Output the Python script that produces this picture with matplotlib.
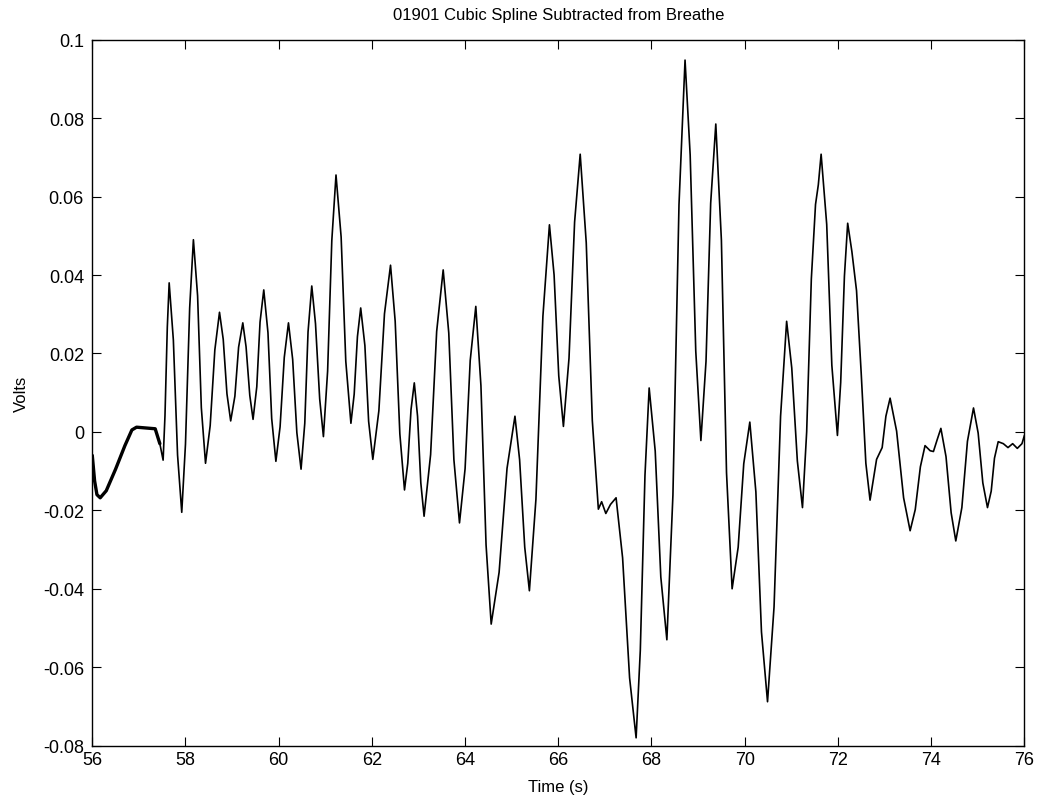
import numpy as np
import matplotlib
matplotlib.use('Agg')
import matplotlib.pyplot as plt

# points: extrema plus two shoulder points per swing
time_s = [56.00, 56.05, 56.10, 56.17, 56.30, 56.50, 56.70, 56.85, 56.95, 57.15,
          57.35, 57.45, 57.52, 57.56, 57.61, 57.65, 57.74, 57.83, 57.92, 58.00,
          58.09, 58.17, 58.26, 58.34, 58.43, 58.53, 58.63, 58.73, 58.81, 58.89,
          58.97, 59.06, 59.14, 59.23, 59.30, 59.38, 59.45, 59.53, 59.60, 59.68,
          59.77, 59.85, 59.94, 60.03, 60.12, 60.21, 60.30, 60.39, 60.48, 60.56,
          60.63, 60.71, 60.79, 60.88, 60.96, 61.05, 61.14, 61.23, 61.34, 61.44,
          61.55, 61.62, 61.69, 61.76, 61.85, 61.93, 62.02, 62.15, 62.27, 62.40,
          62.50, 62.60, 62.70, 62.77, 62.84, 62.91, 62.98, 63.05, 63.12, 63.26,
          63.39, 63.53, 63.65, 63.76, 63.88, 64.00, 64.11, 64.23, 64.34, 64.45,
          64.56, 64.73, 64.90, 65.07, 65.17, 65.28, 65.38, 65.52, 65.67, 65.81,
          65.91, 66.01, 66.11, 66.23, 66.35, 66.47, 66.60, 66.73, 66.86, 66.93,
          67.02, 67.12, 67.24, 67.38, 67.53, 67.67, 67.76, 67.86, 67.95, 68.08,
          68.20, 68.33, 68.46, 68.59, 68.72, 68.83, 68.95, 69.06, 69.17, 69.27,
          69.38, 69.50, 69.61, 69.73, 69.86, 69.98, 70.11, 70.24, 70.36, 70.49,
          70.63, 70.77, 70.90, 71.01, 71.13, 71.24, 71.33, 71.43, 71.52, 71.58,
          71.64, 71.76, 71.87, 71.99, 72.06, 72.14, 72.21, 72.30, 72.40, 72.50,
          72.60, 72.69, 72.83, 72.95, 73.03, 73.12, 73.26, 73.41, 73.55, 73.66,
          73.77, 73.87, 73.98, 74.05, 74.13, 74.21, 74.32, 74.43, 74.53, 74.66,
          74.78, 74.91, 75.01, 75.11, 75.21, 75.29, 75.36, 75.44, 75.55, 75.65,
          75.75, 75.85, 75.95, 76.00]
volts = [-0.0060, -0.0125, -0.0160, -0.0168, -0.0150, -0.0095, -0.0035, 0.0005, 0.0012, 0.0010,
         0.0008, -0.0030, -0.0072, 0.0041, 0.0267, 0.0380, 0.0234, -0.0059, -0.0205, -0.0031,
         0.0316, 0.0490, 0.0347, 0.0062, -0.0080, 0.0016, 0.0209, 0.0305, 0.0236, 0.0097,
         0.0028, 0.0091, 0.0216, 0.0278, 0.0217, 0.0093, 0.0032, 0.0115, 0.0280, 0.0362,
         0.0253, 0.0034, -0.0075, 0.0013, 0.0190, 0.0278, 0.0185, -0.0002, -0.0095, 0.0022,
         0.0255, 0.0372, 0.0276, 0.0084, -0.0012, 0.0155, 0.0488, 0.0655, 0.0497, 0.0180,
         0.0022, 0.0096, 0.0243, 0.0316, 0.0220, 0.0027, -0.0070, 0.0054, 0.0301, 0.0425,
         0.0282, -0.0005, -0.0148, -0.0080, 0.0057, 0.0125, 0.0040, -0.0130, -0.0215, -0.0058,
         0.0256, 0.0413, 0.0252, -0.0071, -0.0232, -0.0094, 0.0182, 0.0320, 0.0118, -0.0288,
         -0.0490, -0.0358, -0.0093, 0.0040, -0.0071, -0.0294, -0.0405, -0.0172, 0.0295, 0.0528,
         0.0400, 0.0143, 0.0014, 0.0188, 0.0535, 0.0708, 0.0482, 0.0029, -0.0197, -0.0178,
         -0.0208, -0.0185, -0.0168, -0.0321, -0.0627, -0.0780, -0.0557, -0.0111, 0.0112, -0.0049,
         -0.0370, -0.0530, -0.0161, 0.0579, 0.0948, 0.0706, 0.0206, -0.0022, 0.0180, 0.0583,
         0.0785, 0.0489, -0.0104, -0.0400, -0.0294, -0.0081, 0.0025, -0.0153, -0.0510, -0.0688,
         -0.0446, 0.0040, 0.0282, 0.0163, -0.0074, -0.0193, 0.0000, 0.0390, 0.0580, 0.0630,
         0.0708, 0.0529, 0.0170, -0.0009, 0.0126, 0.0397, 0.0532, 0.0460, 0.0360, 0.0150,
         -0.0080, -0.0174, -0.0070, -0.0040, 0.0040, 0.0086, 0.0002, -0.0168, -0.0252, -0.0198,
         -0.0089, -0.0035, -0.0048, -0.0050, -0.0020, 0.0009, -0.0063, -0.0206, -0.0278, -0.0193,
         -0.0024, 0.0061, -0.0003, -0.0130, -0.0193, -0.0151, -0.0067, -0.0025, -0.0030, -0.0040,
         -0.0030, -0.0042, -0.0030, -0.0010]

x_ticks = [56, 58, 60, 62, 64, 66, 68, 70, 72, 74, 76]
y_ticks = [-0.08, -0.06, -0.04, -0.02, 0, 0.02, 0.04, 0.06, 0.08, 0.1]
y_labels = ['-0.08', '-0.06', '-0.04', '-0.02', '0', '0.02', '0.04', '0.06', '0.08', '0.1']

plt.rcParams.update({
    'font.family': ['Liberation Sans', 'DejaVu Sans'],
    'axes.unicode_minus': False,
    'axes.linewidth': 1.0,
    'xtick.direction': 'in',
    'ytick.direction': 'in',
    'xtick.top': True,
    'ytick.right': True,
    'xtick.major.size': 6.5,
    'ytick.major.size': 6.5,
    'xtick.labelsize': 13,
    'ytick.labelsize': 13,
})

fig = plt.figure(figsize=(10.38, 8.04), dpi=100)
ax = fig.add_axes([0.0889, 0.0713, 0.8979, 0.8781])

t = np.array(time_s)
v = np.array(volts)
ax.plot(t, v, color='black', linewidth=1.2)
# the start of the record is noisier, so it reads as a heavier line
early = t <= 57.45
ax.plot(t[early], v[early], color='black', linewidth=2.4, solid_capstyle='round')

ax.set_xlim(56, 76)
ax.set_ylim(-0.08, 0.1)
ax.set_xticks(x_ticks)
ax.set_xticklabels([str(x) for x in x_ticks])
ax.set_yticks(y_ticks)
ax.set_yticklabels(y_labels)
ax.tick_params(axis='x', pad=4)
ax.tick_params(axis='y', pad=6)

ax.set_title('01901 Cubic Spline Subtracted from Breathe', fontsize=12, pad=15)
ax.set_xlabel('Time (s)', fontsize=12, labelpad=8)
ax.set_ylabel('Volts', fontsize=12, labelpad=10)

fig.savefig('out.png', dpi=100)
